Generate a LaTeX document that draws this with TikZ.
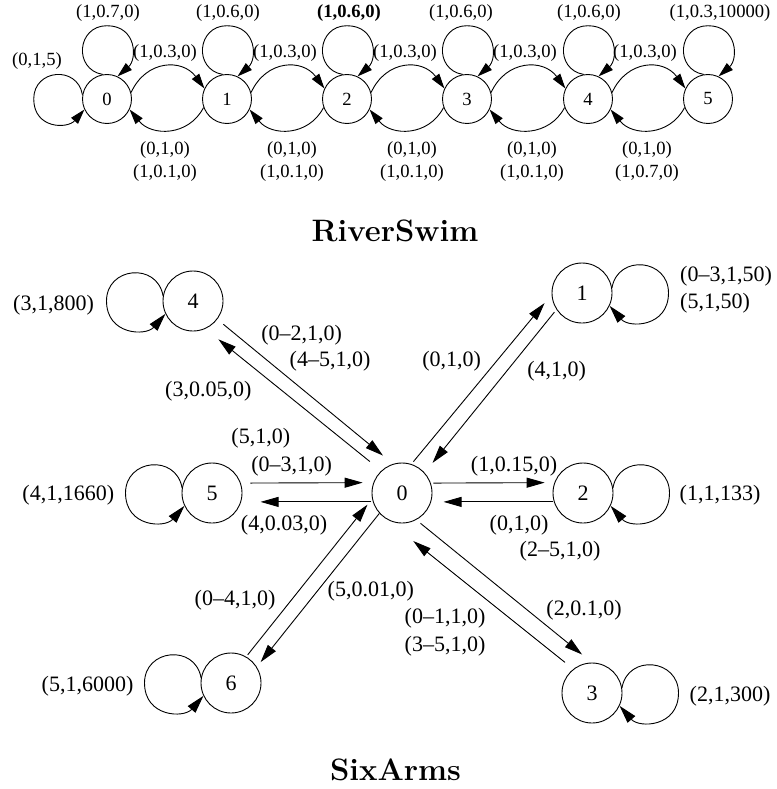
\documentclass[tikz,border=0pt]{standalone}
\usepackage{fontspec}
\usetikzlibrary{arrows.meta}
\newfontfamily\edgefont{Liberation Serif}

\tikzset{
  river/.style={draw, circle, minimum size=49pt, inner sep=0pt, line width=0.9pt,
    font=\edgefont\fontsize{18.6pt}{22pt}\selectfont},
  arm/.style={draw, circle, minimum size=60pt, inner sep=0pt, line width=0.9pt,
    font=\edgefont\fontsize{22pt}{26pt}\selectfont},
  rlabel/.style={inner sep=0pt, font=\edgefont\fontsize{18.6pt}{22pt}\selectfont},
  alabel/.style={inner sep=0pt, font=\edgefont\fontsize{22pt}{26pt}\selectfont},
  mdpname/.style={inner sep=0pt, anchor=base, font=\fontsize{31pt}{37pt}\selectfont\bfseries},
  rarrow/.style={line width=0.9pt, -{Triangle[length=15pt,width=9pt]}},
  aarrow/.style={line width=0.9pt, -{Triangle[length=18pt,width=10pt]}},
}

\begin{document}
\begin{tikzpicture}[x=1pt, y=-1pt]
  \useasboundingbox (0,0) rectangle (776,789);
  % RiverSwim states
  \node[river] (r0) at (107,99) {0};
  \node[river] (r1) at (227,99) {1};
  \node[river] (r2) at (347,99) {2};
  \node[river] (r3) at (467,99) {3};
  \node[river] (r4) at (588,99) {4};
  \node[river] (r5) at (708,99) {5};
  % Self loops
  \draw[rarrow] (r0.170) .. controls +(-5.2,-29.5) and +(0,-29.9) .. ++(-48.7,4.25)
    .. controls +(0,30) and +(-17.1,19.6) .. (r0.205);
  \draw[rarrow] (r0.100) .. controls +(-29.5,-5.2) and +(-29.9,0) .. ++(4.25,-48.7)
    .. controls +(30,0) and +(19.6,-17.1) .. (r0.65);
  \draw[rarrow] (r1.100) .. controls +(-29.5,-5.2) and +(-29.9,0) .. ++(4.25,-48.7)
    .. controls +(30,0) and +(19.6,-17.1) .. (r1.65);
  \draw[rarrow] (r2.100) .. controls +(-29.5,-5.2) and +(-29.9,0) .. ++(4.25,-48.7)
    .. controls +(30,0) and +(19.6,-17.1) .. (r2.65);
  \draw[rarrow] (r3.100) .. controls +(-29.5,-5.2) and +(-29.9,0) .. ++(4.25,-48.7)
    .. controls +(30,0) and +(19.6,-17.1) .. (r3.65);
  \draw[rarrow] (r4.100) .. controls +(-29.5,-5.2) and +(-29.9,0) .. ++(4.25,-48.7)
    .. controls +(30,0) and +(19.6,-17.1) .. (r4.65);
  \draw[rarrow] (r5.100) .. controls +(-29.5,-5.2) and +(-29.9,0) .. ++(4.25,-48.7)
    .. controls +(30,0) and +(19.6,-17.1) .. (r5.65);
  % Upstream
  \draw[rarrow] (r0.15) .. controls +(15,-33) and +(-22,-30) .. (r1.155);
  \draw[rarrow] (r1.15) .. controls +(15,-33) and +(-22,-30) .. (r2.155);
  \draw[rarrow] (r2.15) .. controls +(15,-33) and +(-22,-30) .. (r3.155);
  \draw[rarrow] (r3.15) .. controls +(15,-33) and +(-22,-30) .. (r4.155);
  \draw[rarrow] (r4.15) .. controls +(15,-33) and +(-22,-30) .. (r5.155);
  % Downstream
  \draw[rarrow] (r1.200) .. controls +(-15,29) and +(22,27) .. (r0.-25);
  \draw[rarrow] (r2.200) .. controls +(-15,29) and +(22,27) .. (r1.-25);
  \draw[rarrow] (r3.200) .. controls +(-15,29) and +(22,27) .. (r2.-25);
  \draw[rarrow] (r4.200) .. controls +(-15,29) and +(22,27) .. (r3.-25);
  \draw[rarrow] (r5.200) .. controls +(-15,29) and +(22,27) .. (r4.-25);
  % RiverSwim labels
  \node[rlabel] (stay0) at (37,61) {(0,1,5)};
  \node[rlabel] (loop0) at (108,13) {(1,0.7,0)};
  \node[rlabel] (loop1) at (228,13) {(1,0.6,0)};
  \node[rlabel] (loop2) at (349,13) {\bfseries(1,0.6,0)};
  \node[rlabel] (loop3) at (461,13) {(1,0.6,0)};
  \node[rlabel] (loop4) at (589,13) {(1,0.6,0)};
  \node[rlabel] (loop5) at (720,13) {(1,0.3,10000)};
  \node[rlabel] (up01) at (165,53) {(1,0.3,0)};
  \node[rlabel] (up12) at (285,53) {(1,0.3,0)};
  \node[rlabel] (up23) at (405,53) {(1,0.3,0)};
  \node[rlabel] (up34) at (525,53) {(1,0.3,0)};
  \node[rlabel] (up45) at (645,53) {(1,0.3,0)};
  \node[rlabel] (down10a) at (165,150) {(0,1,0)};
  \node[rlabel] (down10b) at (165,173) {(1,0.1,0)};
  \node[rlabel] (down21a) at (292,150) {(0,1,0)};
  \node[rlabel] (down21b) at (292,173) {(1,0.1,0)};
  \node[rlabel] (down32a) at (412,150) {(0,1,0)};
  \node[rlabel] (down32b) at (412,173) {(1,0.1,0)};
  \node[rlabel] (down43a) at (532,150) {(0,1,0)};
  \node[rlabel] (down43b) at (532,173) {(1,0.1,0)};
  \node[rlabel] (down54a) at (647,150) {(0,1,0)};
  \node[rlabel] (down54b) at (647,173) {(1,0.7,0)};
  \node[mdpname] (riverswim) at (395,241.7) {RiverSwim};

  % SixArms states
  \node[arm] (s0) at (402,493) {0};
  \node[arm] (s1) at (582,293) {1};
  \node[arm] (s2) at (583,493) {2};
  \node[arm] (s3) at (592,693) {3};
  \node[arm] (s4) at (193,301) {4};
  \node[arm] (s5) at (212,493) {5};
  \node[arm] (s6) at (231,683) {6};
  % Self loops
  \draw[aarrow] (s1.10) .. controls +(5.9,-33.7) and +(0,-34.2) .. ++(56.5,5.2)
    .. controls +(0,34.3) and +(19.5,22.4) .. (s1.-25);
  \draw[aarrow] (s2.10) .. controls +(5.9,-33.7) and +(0,-34.2) .. ++(56.5,5.2)
    .. controls +(0,34.3) and +(19.5,22.4) .. (s2.-25);
  \draw[aarrow] (s3.10) .. controls +(5.9,-33.7) and +(0,-34.2) .. ++(56.5,5.2)
    .. controls +(0,34.3) and +(19.5,22.4) .. (s3.-25);
  \draw[aarrow] (s4.170) .. controls +(-5.9,-33.7) and +(0,-34.2) .. ++(-56.5,5.2)
    .. controls +(0,34.3) and +(-19.5,22.4) .. (s4.205);
  \draw[aarrow] (s5.170) .. controls +(-5.9,-33.7) and +(0,-34.2) .. ++(-56.5,5.2)
    .. controls +(0,34.3) and +(-19.5,22.4) .. (s5.205);
  \draw[aarrow] (s6.170) .. controls +(-5.9,-33.7) and +(0,-34.2) .. ++(-56.5,5.2)
    .. controls +(0,34.3) and +(-19.5,22.4) .. (s6.205);
  % Arms
  \draw[aarrow, shorten <=7.8pt, shorten >=13.1pt] (s4.-37) -- (s0.107);
  \draw[aarrow, shorten <=14.6pt, shorten >=16.7pt] (s0.133) -- (s4.-66);
  \draw[aarrow, shorten <=9.7pt, shorten >=10.7pt] (s5.19.5) -- (s0.160.5);
  \draw[aarrow, shorten <=1.4pt, shorten >=19.4pt] (s0.197.5) -- (s5.-17.5);
  \draw[aarrow, shorten <=3.1pt, shorten >=11pt] (s0.72.5) -- (s1.183);
  \draw[aarrow, shorten <=3.2pt, shorten >=12.5pt] (s1.213.6) -- (s0.42.6);
  \draw[aarrow, shorten <=2.7pt, shorten >=9.7pt] (s0.19.5) -- (s2.160.5);
  \draw[aarrow, shorten <=0.6pt, shorten >=12.4pt] (s2.197.5) -- (s0.-17.5);
  \draw[aarrow, shorten <=5.4pt, shorten >=12.7pt] (s0.-62.6) -- (s3.90);
  \draw[aarrow, shorten <=10.6pt, shorten >=39pt] (s3.128.6) -- (s0.231.6);
  \draw[aarrow, shorten <=2.3pt, shorten >=7.4pt] (s6.60.9) -- (s0.191.9);
  \draw[aarrow, shorten >=6.1pt] (s0.222.3) -- (s6.32.9);
  % SixArms labels
  \node[alabel] (stay4) at (53.5,305) {(3,1,800)};
  \node[alabel] (stay5) at (68.3,495) {(4,1,1660)};
  \node[alabel] (stay6) at (87.5,686.7) {(5,1,6000)};
  \node[alabel, anchor=west] (stay1a) at (680,276.7) {(0\textendash3,1,50)};
  \node[alabel, anchor=west] (stay1b) at (680,303.3) {(5,1,50)};
  \node[alabel] (stay2) at (720,495) {(1,1,133)};
  \node[alabel] (stay3) at (730,696.7) {(2,1,300)};
  \node[alabel] (back4a) at (301.7,335) {(0\textendash2,1,0)};
  \node[alabel] (back4b) at (330,361.7) {(4\textendash5,1,0)};
  \node[alabel] (to4) at (208.3,391.7) {(3,0.05,0)};
  \node[alabel] (back5a) at (260.8,438.3) {(5,1,0)};
  \node[alabel] (back5b) at (291.7,466.7) {(0\textendash3,1,0)};
  \node[alabel] (to5) at (284,525) {(4,0.03,0)};
  \node[alabel] (to1) at (451.7,361.7) {(0,1,0)};
  \node[alabel] (back1) at (556.7,371.7) {(4,1,0)};
  \node[alabel] (to2) at (514,466.7) {(1,0.15,0)};
  \node[alabel] (back2a) at (519,525) {(0,1,0)};
  \node[alabel] (back2b) at (560,551.7) {(2\textendash5,1,0)};
  \node[alabel] (to3) at (584,610) {(2,0.1,0)};
  \node[alabel] (back3a) at (445,618.3) {(0\textendash1,1,0)};
  \node[alabel] (back3b) at (445,646.7) {(3\textendash5,1,0)};
  \node[alabel] (back6) at (235,600) {(0\textendash4,1,0)};
  \node[alabel] (to6) at (370.8,591.7) {(5,0.01,0)};
  \node[mdpname] (sixarms) at (395.5,780.7) {SixArms};
\end{tikzpicture}
\end{document}
